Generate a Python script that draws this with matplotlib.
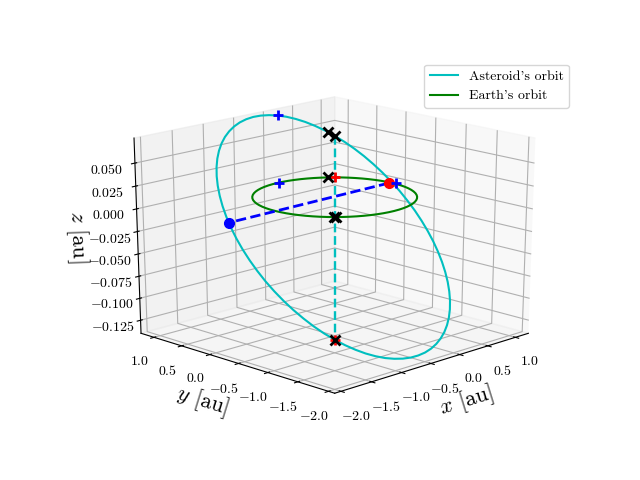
import matplotlib
matplotlib.use('Agg')
import matplotlib.pyplot as plt

plt.rcParams['font.family'] = ['cmr10', 'DejaVu Serif']
plt.rcParams['mathtext.fontset'] = 'cm'
plt.rcParams['axes.formatter.use_mathtext'] = True
plt.rcParams['axes.unicode_minus'] = True

# asteroid orbit [au]
ast_x = [.6512, .5610, .4635, .3594, .2496, .1348, .0161, -.1058, -.2300, -.3552, -.4809, -.6060,
         -.7293, -.8502, -.9676, -1.0807, -1.1885, -1.2902, -1.3852, -1.4727, -1.5518, -1.6223, -1.6835, -1.7347,
         -1.7758, -1.8065, -1.8262, -1.8352, -1.8332, -1.8204, -1.7965, -1.7620, -1.7173, -1.6623, -1.5977, -1.5242,
         -1.4418, -1.3515, -1.2541, -1.1499, -1.0402, -.9254, -.8066, -.6848, -.5606, -.4353, -.3096, -.1846,
         -.0612, .0597, .1771, .2901, .3980, .4997, .5947, .6821, .7613, .8318, .8929, .9441,
         .9853, 1.0160, 1.0357, 1.0447, 1.0427, 1.0298, 1.0060, .9715, .9267, .8717, .8072, .7336, .6512]
ast_y = [.6512, .7336, .8072, .8717, .9267, .9715, 1.0060, 1.0298, 1.0427, 1.0447, 1.0357, 1.0160,
         .9853, .9441, .8929, .8318, .7613, .6821, .5947, .4997, .3980, .2901, .1771, .0597,
         -.0612, -.1846, -.3096, -.4353, -.5606, -.6848, -.8066, -.9254, -1.0402, -1.1499, -1.2541, -1.3515,
         -1.4418, -1.5242, -1.5977, -1.6623, -1.7173, -1.7620, -1.7965, -1.8204, -1.8332, -1.8352, -1.8262, -1.8065,
         -1.7758, -1.7347, -1.6835, -1.6223, -1.5518, -1.4727, -1.3852, -1.2902, -1.1885, -1.0807, -.9676, -.8502,
         -.7293, -.6060, -.4809, -.3552, -.2300, -.1058, .0161, .1348, .2496, .3594, .4635, .5610, .6512]
ast_z = [.0488, .0550, .0605, .0654, .0695, .0729, .0755, .0772, .0782, .0784, .0777, .0762,
         .0739, .0708, .0670, .0624, .0571, .0512, .0446, .0375, .0299, .0218, .0133, .0045,
         -.0046, -.0138, -.0232, -.0326, -.0420, -.0514, -.0605, -.0694, -.0780, -.0862, -.0941, -.1014,
         -.1081, -.1143, -.1198, -.1247, -.1288, -.1322, -.1347, -.1365, -.1375, -.1376, -.1370, -.1355,
         -.1332, -.1301, -.1263, -.1217, -.1164, -.1105, -.1039, -.0968, -.0891, -.0811, -.0726, -.0638,
         -.0547, -.0455, -.0361, -.0266, -.0173, -.0079, .0012, .0101, .0187, .0270, .0348, .0421, .0488]

# earth orbit
earth_x = [1, .9962, .9848, .9659, .9397, .9063, .8660, .8192, .7660, .7071, .6428, .5736,
           .5, .4226, .3420, .2588, .1736, .0872, 0, -.0872, -.1736, -.2588, -.3420, -.4226,
           -.5, -.5736, -.6428, -.7071, -.7660, -.8192, -.8660, -.9063, -.9397, -.9659, -.9848, -.9962,
           -1, -.9962, -.9848, -.9659, -.9397, -.9063, -.8660, -.8192, -.7660, -.7071, -.6428, -.5736,
           -.5, -.4226, -.3420, -.2588, -.1736, -.0872, 0, .0872, .1736, .2588, .3420, .4226,
           .5, .5736, .6428, .7071, .7660, .8192, .8660, .9063, .9397, .9659, .9848, .9962, 1]
earth_y = [0, .0872, .1736, .2588, .3420, .4226, .5, .5736, .6428, .7071, .7660, .8192,
           .8660, .9063, .9397, .9659, .9848, .9962, 1, .9962, .9848, .9659, .9397, .9063,
           .8660, .8192, .7660, .7071, .6428, .5736, .5, .4226, .3420, .2588, .1736, .0872,
           0, -.0872, -.1736, -.2588, -.3420, -.4226, -.5, -.5736, -.6428, -.7071, -.7660, -.8192,
           -.8660, -.9063, -.9397, -.9659, -.9848, -.9962, -1, -.9962, -.9848, -.9659, -.9397, -.9063,
           -.8660, -.8192, -.7660, -.7071, -.6428, -.5736, -.5, -.4226, -.3420, -.2588, -.1736, -.0872, 0]
earth_z = [0] * 73

# apsides and nodes
apsis_x = [.6512, -1.4418]
apsis_y = [.6512, -1.4418]
apsis_z = [.0488, -.1081]
node_x = [.97, -1.76]
node_y = [.02, -.02]
node_z = [0, 0]

# markers
cross_x = [.59, .6512, .648, -.70, -.72, -1.4418]
cross_y = [.71, .6512, .766, -.72, -.70, -1.4418]
cross_z = [.053, .0488, 0, 0, 0, -.1081]
blue_plus_x = [.0161, .03, 1.04]
blue_plus_y = [1.006, 1.0, -.03]
blue_plus_z = [.0755, 0, 0]
red_plus_x = [.707, -1.4418]
red_plus_y = [.707, -1.4418]
red_plus_z = [0, -.1081]

x_ticks = [-2.0, -1.5, -1.0, -0.5, 0.0, 0.5, 1.0]
y_ticks = [-2.0, -1.5, -1.0, -0.5, 0.0, 0.5, 1.0]
z_ticks = [-0.125, -0.100, -0.075, -0.050, -0.025, 0.000, 0.025, 0.050]

fig = plt.figure()
ax = fig.add_subplot(projection='3d')
# let the 3d box fill the whole axes rectangle, stretched with the figure
ax.apply_aspect = lambda position=None: None
ax.set_box_aspect((1, 1, 1), zoom=0.945)

ax.plot(ast_x, ast_y, ast_z, 'c', label="Asteroid's orbit")
ax.plot(earth_x, earth_y, earth_z, 'g', label="Earth's orbit")
ax.plot(apsis_x, apsis_y, apsis_z, 'c--', lw=1.7)
ax.plot(node_x, node_y, node_z, 'b--', lw=2)

ax.plot(node_x[1:], node_y[1:], node_z[1:], 'bo', ms=7)
ax.plot(node_x[:1], node_y[:1], node_z[:1], 'ro', ms=7)
ax.plot(red_plus_x, red_plus_y, red_plus_z, 'r+', ms=7.5, mew=2)
ax.plot(blue_plus_x, blue_plus_y, blue_plus_z, 'b+', ms=7.5, mew=2)
ax.plot(cross_x, cross_y, cross_z, 'kx', ms=7, mew=2)

ax.set_xlim(-2.1, 1.24)
ax.set_ylim(-2.1, 1.24)
ax.set_zlim(-0.14, 0.077)
ax.set_xticks(x_ticks)
ax.set_yticks(y_ticks)
ax.set_zticks(z_ticks)
ax.set_xlabel('$x$ [au]', fontsize=16)
ax.set_ylabel('$y$ [au]', fontsize=16)
ax.set_zlabel('$z$ [au]', fontsize=16)
ax.view_init(elev=20, azim=-135)
ax.legend()

plt.savefig('out.png', dpi=100)
